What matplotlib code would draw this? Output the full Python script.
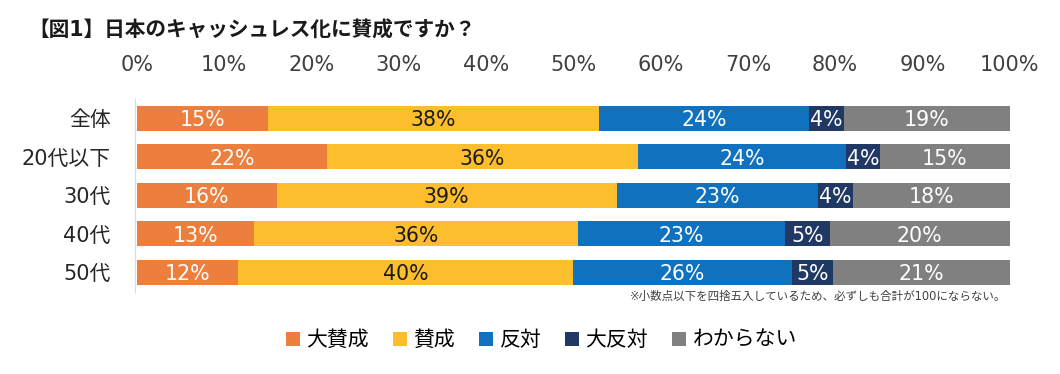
import numpy as np
import matplotlib
matplotlib.use("Agg")
import matplotlib.pyplot as plt

# Latin glyphs from DejaVu, Japanese from Noto CJK
plt.rcParams['font.family'] = ['DejaVu Sans', 'Noto Sans CJK JP']

title = "【図1】日本のキャッシュレス化に賛成ですか？"
note = "※小数点以下を四捨五入しているため、必ずしも合計が100にならない。"

groups = ["全体", "20代以下", "30代", "40代", "50代"]
answers = ["大賛成", "賛成", "反対", "大反対", "わからない"]

# percentages as printed on the bars (rounded, rows need not sum to 100)
strongly_for = [15, 22, 16, 13, 12]
in_favour = [38, 36, 39, 36, 40]
against = [24, 24, 23, 23, 26]
strongly_against = [4, 4, 4, 5, 5]
dont_know = [19, 15, 18, 20, 21]

colors = ["#EC7F3E", "#FDBE2D", "#1071BE", "#203864", "#808080"]
text_colors = ["white", "#1a1a1a", "white", "white", "white"]
xticks = [0, 10, 20, 30, 40, 50, 60, 70, 80, 90, 100]

data = np.array([strongly_for, in_favour, against, strongly_against, dont_know], dtype=float)
shares = data / data.sum(axis=0) * 100  # 100% stacked, like the original

fig = plt.figure(figsize=(10.6, 3.74), dpi=100)
ax = fig.add_axes([0.1291, 0.2205, 0.8235, 0.5150])

y = np.arange(len(groups))
left = np.zeros(len(groups))
for i, name in enumerate(answers):
    ax.barh(y, shares[i], left=left, height=0.65, color=colors[i], label=name)
    for j in range(len(groups)):
        ax.text(left[j] + shares[i][j] / 2, y[j], "%d%%" % data[i][j],
                ha="center", va="center_baseline", fontsize=14.8, color=text_colors[i])
    left += shares[i]

ax.set_xlim(0, 100)
ax.set_ylim(len(groups) - 0.5, -0.5)
ax.xaxis.tick_top()
ax.set_xticks(xticks)
ax.set_xticklabels(["%d%%" % t for t in xticks])
ax.set_yticks(y)
ax.set_yticklabels(groups)
ax.tick_params(axis="x", length=0, pad=17, labelsize=15, labelcolor="#404040")
ax.tick_params(axis="y", length=0, pad=18, labelsize=15, labelcolor="#262626")

for s in ["top", "right", "bottom"]:
    ax.spines[s].set_visible(False)
ax.spines["left"].set_color("#D9D9D9")
ax.spines["left"].set_position(("outward", 1))

fig.text(28 / 1060, 1 - 31 / 374, title, fontsize=14.9, fontweight="bold",
         ha="left", va="center", color="#1a1a1a")
fig.text(1006 / 1060, 1 - 296 / 374, note, fontsize=8.3, ha="right", va="center",
         color="#404040")

fig.legend(loc="center", bbox_to_anchor=(0.5108, 0.0909), ncol=5, frameon=False,
           fontsize=15, handlelength=0.67, handleheight=0.67, handletextpad=0.31,
           columnspacing=1.15)

fig.savefig("out.png", dpi=100)
